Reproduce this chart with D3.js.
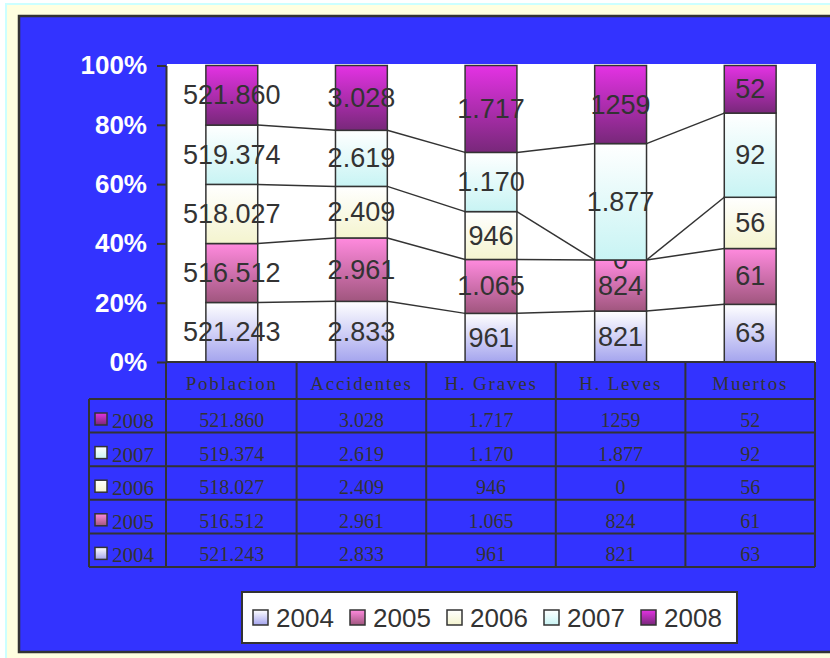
<!DOCTYPE html>
<html>
<head>
<meta charset="utf-8">
<script src="https://cdn.jsdelivr.net/npm/d3@7"></script>
<style>
  body { margin: 0; background: #fff; }
  svg { display: block; }
</style>
</head>
<body>
<div id="chart"></div>
<script>
// Accidentes - 100% stacked columns with data table underneath

const categories = ["Poblacion", "Accidentes", "H. Graves", "H. Leves", "Muertos"];
const years = ["2004", "2005", "2006", "2007", "2008"];

const values2004 = [521243, 2833, 961, 821, 63];
const values2005 = [516512, 2961, 1065, 824, 61];
const values2006 = [518027, 2409, 946, 0, 56];
const values2007 = [519374, 2619, 1170, 1877, 92];
const values2008 = [521860, 3028, 1717, 1259, 52];

// labels as printed in the original (separators are not consistent)
const labels2004 = ["521.243", "2.833", "961", "821", "63"];
const labels2005 = ["516.512", "2.961", "1.065", "824", "61"];
const labels2006 = ["518.027", "2.409", "946", "0", "56"];
const labels2007 = ["519.374", "2.619", "1.170", "1.877", "92"];
const labels2008 = ["521.860", "3.028", "1.717", "1259", "52"];

const yTicks = [0, 0.2, 0.4, 0.6, 0.8, 1];

const valuesByYear = { "2004": values2004, "2005": values2005, "2006": values2006, "2007": values2007, "2008": values2008 };
const labelsByYear = { "2004": labels2004, "2005": labels2005, "2006": labels2006, "2007": labels2007, "2008": labels2008 };

// gradient top / bottom colour for each year
const gradColors = {
  "2004": ["#ffffff", "#a4a4ee"],
  "2005": ["#ff8ade", "#a0567e"],
  "2006": ["#ffffff", "#f4f4cf"],
  "2007": ["#ffffff", "#c8f4f4"],
  "2008": ["#e432e4", "#78287a"]
};

const width = 830, height = 658;
const plotLeft = 167, plotRight = 815, plotTop = 64, plotBottom = 362;
const dark = "#333";

const svg = d3.select("#chart").append("svg")
  .attr("width", width)
  .attr("height", height);

// Gradients
const defs = svg.append("defs");
years.forEach(yr => {
  const g = defs.append("linearGradient")
    .attr("id", "grad-" + yr)
    .attr("x1", 0).attr("y1", 0).attr("x2", 0).attr("y2", 1);
  g.append("stop").attr("offset", "0%").attr("stop-color", gradColors[yr][0]);
  g.append("stop").attr("offset", "100%").attr("stop-color", gradColors[yr][1]);
});

// Outer page frame
svg.append("rect")
  .attr("x", 6).attr("y", 4)
  .attr("width", 840).attr("height", 660)
  .attr("fill", "#ffffe0")
  .attr("stroke", "#ccffff")
  .attr("stroke-width", 2);

// Blue chart panel
svg.append("rect")
  .attr("x", 19).attr("y", 16)
  .attr("width", 830).attr("height", 636)
  .attr("fill", "#3333ff")
  .attr("stroke", dark)
  .attr("stroke-width", 2.5);

// Scales
const x = d3.scaleBand()
  .domain(categories)
  .range([plotLeft, plotRight]);

const y = d3.scaleLinear()
  .domain([0, 1])
  .range([plotBottom, 65.5]);

const barW = x.bandwidth() * 0.4;

// Plot area
svg.append("rect")
  .attr("x", plotLeft).attr("y", plotTop)
  .attr("width", plotRight - plotLeft + 1)
  .attr("height", plotBottom - plotTop)
  .attr("fill", "#fff");

// Stack data
const rows = categories.map((c, i) => {
  const row = { category: c, index: i };
  years.forEach(yr => { row[yr] = valuesByYear[yr][i]; });
  return row;
});

const series = d3.stack()
  .keys(years)
  .offset(d3.stackOffsetExpand)(rows);

// Series lines between columns
const lineGroup = svg.append("g").attr("class", "series-lines");
series.slice(0, series.length - 1).forEach(layer => {
  for (let i = 0; i < layer.length - 1; i++) {
    const a = layer[i], b = layer[i + 1];
    lineGroup.append("line")
      .attr("x1", x(a.data.category) + x.bandwidth() / 2 + barW / 2)
      .attr("y1", y(a[1]))
      .attr("x2", x(b.data.category) + x.bandwidth() / 2 - barW / 2)
      .attr("y2", y(b[1]))
      .attr("stroke", dark)
      .attr("stroke-width", 1.5);
  }
});

// Bar segments
const layers = svg.append("g").attr("class", "layers")
  .selectAll("g")
  .data(series)
  .enter()
  .append("g");

layers.selectAll("rect")
  .data(d => d.map(p => Object.assign(p, { key: d.key })))
  .enter()
  .append("rect")
  .attr("x", d => x(d.data.category) + x.bandwidth() / 2 - barW / 2)
  .attr("y", d => y(d[1]))
  .attr("width", barW)
  .attr("height", d => y(d[0]) - y(d[1]))
  .attr("fill", d => `url(#grad-${d.key})`)
  .attr("stroke", dark)
  .attr("stroke-width", 1.5);

// Segment labels
layers.selectAll("text")
  .data(d => d)
  .enter()
  .append("text")
  .attr("x", d => x(d.data.category) + x.bandwidth() / 2)
  .attr("y", d => y((d[0] + d[1]) / 2))
  .attr("text-anchor", "middle")
  .attr("dominant-baseline", "central")
  .attr("fill", dark)
  .attr("font-family", "'Liberation Sans', Arial, sans-serif")
  .attr("font-size", "27px")
  .text(d => labelsByYear[d.key][d.data.index]);

// Y axis
const yAxis = d3.axisLeft(y)
  .tickValues(yTicks)
  .tickFormat(d3.format(".0%"))
  .tickSize(9)
  .tickSizeOuter(0)
  .tickPadding(10);

const yAxisG = svg.append("g")
  .attr("transform", `translate(${plotLeft - 1},0)`)
  .call(yAxis);

yAxisG.select(".domain")
  .attr("stroke", dark)
  .attr("stroke-width", 2);
yAxisG.selectAll(".tick line")
  .attr("stroke", dark)
  .attr("stroke-width", 2);
yAxisG.selectAll(".tick text")
  .attr("fill", "#fff")
  .attr("font-family", "'Liberation Sans', Arial, sans-serif")
  .attr("font-size", "26px")
  .attr("font-weight", "bold");

// Bottom axis line
svg.append("line")
  .attr("x1", plotLeft - 1).attr("x2", plotRight)
  .attr("y1", plotBottom).attr("y2", plotBottom)
  .attr("stroke", dark)
  .attr("stroke-width", 2);

// Data table
const tableTop = 399, tableBottom = 567, tableLeft = 89;
const tableYears = years.slice().reverse();
const rowY = d3.scaleBand()
  .domain(tableYears)
  .range([tableTop, tableBottom]);

const table = svg.append("g").attr("class", "data-table");
const serif = "'Liberation Serif', 'Times New Roman', serif";

// header labels
table.selectAll(".col-head")
  .data(categories)
  .enter()
  .append("text")
  .attr("class", "col-head")
  .attr("x", d => x(d) + x.bandwidth() / 2)
  .attr("y", plotBottom + 28)
  .attr("text-anchor", "middle")
  .attr("fill", dark)
  .attr("font-family", serif)
  .attr("font-size", "19px")
  .attr("letter-spacing", "1.8px")
  .text(d => d);

// year rows
const tableRows = table.selectAll(".row")
  .data(tableYears)
  .enter()
  .append("g")
  .attr("class", "row")
  .attr("transform", d => `translate(0, ${rowY(d)})`);

tableRows.append("rect")
  .attr("x", tableLeft + 6)
  .attr("y", 14)
  .attr("width", 12)
  .attr("height", 12)
  .attr("fill", d => `url(#grad-${d})`)
  .attr("stroke", dark)
  .attr("stroke-width", 1.5);

tableRows.append("text")
  .attr("x", tableLeft + 23)
  .attr("y", 29)
  .attr("fill", dark)
  .attr("font-family", serif)
  .attr("font-size", "21px")
  .text(d => d);

tableRows.selectAll(".cell")
  .data(yr => categories.map((c, i) => ({ category: c, label: labelsByYear[yr][i] })))
  .enter()
  .append("text")
  .attr("class", "cell")
  .attr("x", d => x(d.category) + x.bandwidth() / 2)
  .attr("y", 28)
  .attr("text-anchor", "middle")
  .attr("fill", dark)
  .attr("font-family", serif)
  .attr("font-size", "20px")
  .text(d => d.label);

// grid lines
const gridColor = dark;
[tableTop].concat(tableYears.map(yr => rowY(yr) + rowY.bandwidth())).forEach(yy => {
  table.append("line")
    .attr("x1", tableLeft).attr("x2", plotRight)
    .attr("y1", yy).attr("y2", yy)
    .attr("stroke", gridColor)
    .attr("stroke-width", 2);
});

table.append("line")
  .attr("x1", tableLeft).attr("x2", tableLeft)
  .attr("y1", tableTop).attr("y2", tableBottom)
  .attr("stroke", gridColor)
  .attr("stroke-width", 2);

[plotLeft - 1].concat(categories.map(c => x(c) + x.bandwidth())).forEach(xx => {
  table.append("line")
    .attr("x1", xx).attr("x2", xx)
    .attr("y1", plotBottom).attr("y2", tableBottom)
    .attr("stroke", gridColor)
    .attr("stroke-width", 2);
});

// Legend
const legend = svg.append("g").attr("class", "legend");
legend.append("rect")
  .attr("x", 242).attr("y", 592)
  .attr("width", 495).attr("height", 51)
  .attr("fill", "#fff")
  .attr("stroke", dark)
  .attr("stroke-width", 2);

const legendItems = legend.selectAll(".legend-item")
  .data(years)
  .enter()
  .append("g")
  .attr("class", "legend-item")
  .attr("transform", (d, i) => `translate(${253 + i * 97}, 0)`);

legendItems.append("rect")
  .attr("x", 0).attr("y", 610)
  .attr("width", 15).attr("height", 15)
  .attr("fill", d => `url(#grad-${d})`)
  .attr("stroke", dark)
  .attr("stroke-width", 1.5);

legendItems.append("text")
  .attr("x", 23)
  .attr("y", 627)
  .attr("fill", dark)
  .attr("font-family", "'Liberation Sans', Arial, sans-serif")
  .attr("font-size", "26px")
  .text(d => d);
</script>
</body>
</html>
